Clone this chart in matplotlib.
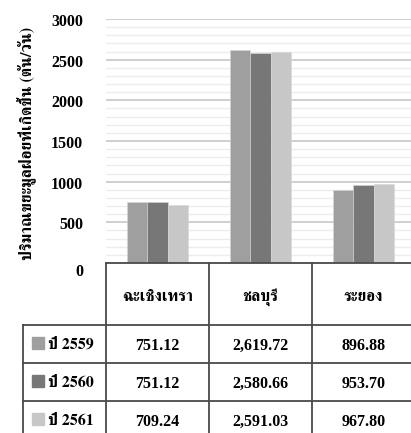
"""
Daily municipal solid waste by province (2559-2561) with an Excel-style data table
"""
import matplotlib
matplotlib.use('Agg')
import matplotlib.pyplot as plt
import matplotlib.transforms as mtransforms
from matplotlib import font_manager
from fontTools.ttLib import TTFont

provinces = ['ฉะเชิงเทรา', 'ชลบุรี', 'ระยอง']
years = ['ปี 2559', 'ปี 2560', 'ปี 2561']
waste_2559 = [751.12, 2619.72, 896.88]
waste_2560 = [751.12, 2580.66, 953.70]
waste_2561 = [709.24, 2591.03, 967.80]
series = [waste_2559, waste_2560, waste_2561]
bar_colors = ['#9f9f9f', '#777777', '#c7c7c7']
y_ticks = [0, 500, 1000, 1500, 2000, 2500, 3000]
y_label = 'ปริมาณขยะมูลฝอยที่เกิดขึ้น (ตัน/วัน)'


def find_thai_family():
    """Pick an installed family that actually carries Thai glyphs"""
    best = None
    for fe in font_manager.fontManager.ttflist:
        try:
            font = TTFont(fe.fname, fontNumber=0, lazy=True)
            cmap = font['cmap'].getBestCmap()
        except Exception:
            continue
        if cmap and ord('ก') in cmap:
            score = ('Serif' in fe.name) * 2 + (fe.weight in ('bold', 700))
            if best is None or score > best[0]:
                best = (score, fe.name)
    return best[1] if best else 'DejaVu Sans'


thai_family = find_thai_family()
fams = ['Liberation Serif', thai_family, 'DejaVu Sans']
thai_fams = [thai_family, 'Liberation Serif']

W, H = 411, 433
fig = plt.figure(figsize=(W / 100, H / 100), dpi=100)
fig.patch.set_facecolor('white')

# plot area in pixel terms: x 106..415, value 0 at y=263, 3000 at y=19
x0, x1 = 106, 415
y_zero, y_top = 263, 19
ax = fig.add_axes([x0 / W, 1 - y_zero / H, (x1 - x0) / W, (y_zero - y_top) / H])

bar_w = 0.2
for i, vals in enumerate(series):
    xs = [c + (i - 1) * bar_w for c in range(len(provinces))]
    ax.bar(xs, vals, width=bar_w, color=bar_colors[i], edgecolor='#d8d8d8',
           linewidth=0.4, zorder=3)

ax.set_xlim(-0.5, len(provinces) - 0.5)
ax.set_ylim(0, 3000)
ax.set_yticks(y_ticks)
ax.set_yticks(range(0, 3001, 100), minor=True)
ax.grid(axis='y', which='major', color='#cccccc', linewidth=1.3, zorder=0)
ax.grid(axis='y', which='minor', color='#ececec', linewidth=1.0, zorder=0)
ax.tick_params(axis='both', which='both', length=0,
               labelleft=False, labelbottom=False)
for side in ['left', 'right', 'top', 'bottom']:
    ax.spines[side].set_visible(False)

# value labels, right-aligned 23 px left of the plot; zero sits a bit lower
for t in y_ticks:
    dy = -9 / 100 if t == 0 else -3 / 100
    trans = ax.get_yaxis_transform() + mtransforms.ScaledTranslation(
        -23 / 100, dy, fig.dpi_scale_trans)
    ax.text(0, t, str(t), transform=trans, ha='right', va='center',
            fontsize=11.5, fontweight='bold', family=fams, clip_on=False)

fig.text(27 / W, 1 - 143 / H, y_label, rotation=90, ha='center', va='center',
         fontsize=11.5, fontweight='bold', family=thai_fams)

# data table underneath, drawn in pixel coordinates
tab = fig.add_axes([0, 0, 1, 1])
tab.set_xlim(0, W)
tab.set_ylim(H, 0)
tab.axis('off')

line_kw = dict(color='#4a4a4a', linewidth=1.3)
col_edges = [106, 209, 312, 415]
header_top, header_bot = 263, 325
row_edges = [325, 363, 401, 439]
label_left = 23

tab.plot([col_edges[0], col_edges[-1]], [header_top, header_top], **line_kw)
for xe in col_edges:
    tab.plot([xe, xe], [header_top, row_edges[-1]], **line_kw)
tab.plot([label_left, label_left], [row_edges[0], row_edges[-1]], **line_kw)
for ye in row_edges:
    tab.plot([label_left, col_edges[-1]], [ye, ye], **line_kw)

for j, name in enumerate(provinces):
    cx = (col_edges[j] + col_edges[j + 1]) / 2
    tab.text(cx, 297, name, ha='center', va='center', fontsize=11.5,
             fontweight='bold', family=thai_fams)

for i, (year, vals) in enumerate(zip(years, series)):
    mid = (row_edges[i] + row_edges[i + 1]) / 2
    tab.add_patch(plt.Rectangle((32, mid - 7), 12, 12, color=bar_colors[i]))
    tab.text(48, mid + 1, year, ha='left', va='center', fontsize=11.5,
             fontweight='bold', family=thai_fams)
    for j, v in enumerate(vals):
        cx = (col_edges[j] + col_edges[j + 1]) / 2
        tab.text(cx, mid + 2, f'{v:,.2f}', ha='center', va='center', fontsize=11.5,
                 fontweight='bold', family=fams)

fig.savefig('out.png', dpi=100)
